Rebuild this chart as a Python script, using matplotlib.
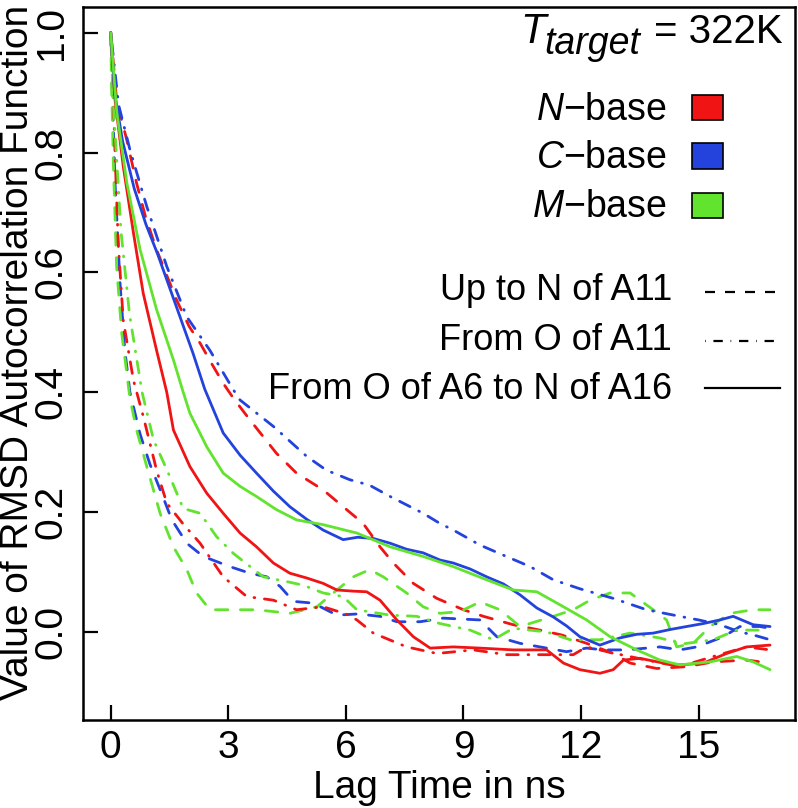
import matplotlib
matplotlib.use("Agg")
import matplotlib.pyplot as plt
from matplotlib.lines import Line2D
from matplotlib.patches import Rectangle

plt.rcParams["font.family"] = ["Liberation Sans", "DejaVu Sans"]
plt.rcParams["mathtext.fontset"] = "custom"
plt.rcParams["mathtext.rm"] = "Liberation Sans"
plt.rcParams["mathtext.it"] = "Liberation Sans:italic"

W, H = 798, 808

# N-base (red)
n_solid_x = [0, 0.11, 0.32, 0.58, 0.83, 1.17, 1.43, 1.60, 2.02, 2.45, 2.87, 3.30, 3.72, 4.15, 4.57,
             5.0, 5.42, 5.77, 6.2, 6.53, 6.87, 7.30, 7.72, 8.15, 8.74, 9.42, 10.27, 11.12, 11.55,
             11.97, 12.48, 12.82, 13.08, 13.5, 14.1, 14.52, 15.12, 15.71, 16.22, 16.82]
n_solid_y = [1.0, 0.888, 0.777, 0.666, 0.565, 0.47, 0.40, 0.337, 0.276, 0.2315, 0.198, 0.165, 0.142,
             0.115, 0.098, 0.09, 0.081, 0.07, 0.068, 0.067, 0.053, 0.02, -0.008, -0.027, -0.025,
             -0.027, -0.03, -0.03, -0.052, -0.063, -0.069, -0.063, -0.047, -0.044, -0.052, -0.055,
             -0.052, -0.036, -0.025, -0.022]
n_dash_x = [0, 0.15, 0.41, 0.66, 0.9, 1.17, 1.43, 1.68, 2.0, 2.28, 2.6, 2.87, 3.13, 3.55, 4.23, 4.74,
            5.42, 5.93, 6.44, 6.87, 7.21, 7.72, 8.32, 9.0, 9.51, 10.27, 10.95, 11.5, 12.14, 12.82,
            13.25, 13.93, 14.69, 15.37, 16.22, 16.82]
n_dash_y = [1.0, 0.888, 0.821, 0.749, 0.69, 0.638, 0.595, 0.554, 0.51, 0.482, 0.445, 0.415, 0.39,
            0.354, 0.298, 0.265, 0.237, 0.209, 0.181, 0.142, 0.115, 0.081, 0.056, 0.037, 0.026,
            0.012, 0.003, -0.005, -0.019, -0.036, -0.052, -0.061, -0.058, -0.05, -0.047, -0.052]
n_dotdash_x = [0, 0.05, 0.11, 0.19, 0.32, 0.58, 0.83, 1.17, 1.43, 1.85, 2.28, 2.87, 3.47, 4.15, 4.74,
               5.42, 6.0, 6.28, 6.70, 7.55, 8.32, 9.25, 10.10, 11.0, 11.80, 12.14, 12.8, 13.67,
               14.52, 15.37, 16.22, 16.82]
n_dotdash_y = [1.0, 0.92, 0.80, 0.65, 0.52, 0.42, 0.36, 0.27, 0.215, 0.18, 0.148, 0.092, 0.059,
               0.053, 0.037, 0.042, 0.03, 0.02, -0.002, -0.025, -0.036, -0.03, -0.038, -0.038,
               -0.038, -0.025, -0.035, -0.047, -0.058, -0.041, -0.025, -0.03]

# C-base (blue)
c_solid_x = [0, 0.1, 0.3, 0.6, 0.9, 1.2, 1.5, 1.8, 2.1, 2.4, 2.87, 3.3, 3.72, 4.15, 4.57, 5.0, 5.42,
             5.93, 6.3, 6.7, 7.13, 7.55, 7.97, 8.4, 8.74, 9.17, 9.59, 10.02, 10.44, 10.87, 11.29,
             11.63, 11.97, 12.48, 12.99, 13.42, 13.84, 14.27, 14.69, 15.12, 15.54, 15.88, 16.39, 16.82]
c_solid_y = [1.0, 0.90, 0.82, 0.74, 0.68, 0.63, 0.575, 0.52, 0.465, 0.405, 0.332, 0.295, 0.265,
             0.235, 0.209, 0.188, 0.170, 0.154, 0.158, 0.156, 0.148, 0.138, 0.132, 0.12, 0.115,
             0.105, 0.092, 0.08, 0.062, 0.04, 0.025, 0.01, -0.008, -0.022, -0.01, -0.004, -0.002,
             0.004, 0.009, 0.014, 0.02, 0.026, 0.012, 0.009]
c_dash_x = [0, 0.05, 0.11, 0.24, 0.36, 0.49, 0.75, 1.0, 1.30, 1.56, 1.94, 2.36, 3.04, 3.55, 3.98,
            4.32, 4.66, 5.17, 5.77, 6.3, 6.87, 7.30, 7.89, 8.48, 9.42, 9.85, 10.44, 11.12, 11.63,
            12.14, 12.57, 13.16, 14.01, 14.52, 14.95, 15.63, 16.05, 16.56, 16.82]
c_dash_y = [1.0, 0.88, 0.75, 0.58, 0.47, 0.40, 0.33, 0.28, 0.231, 0.187, 0.148, 0.126, 0.109, 0.098,
            0.092, 0.076, 0.051, 0.048, 0.028, 0.03, 0.026, 0.017, 0.017, 0.023, 0.02, -0.008,
            -0.019, -0.027, -0.033, -0.027, -0.03, -0.03, -0.025, -0.03, -0.025, -0.008, 0.009,
            0.009, 0.006]
c_dotdash_x = [0, 0.2, 0.49, 0.92, 1.43, 1.94, 2.53, 3.13, 3.30, 4.15, 5.0, 5.5, 6.10, 6.6, 7.13,
               7.97, 8.4, 8.74, 9.42, 10.02, 10.70, 11.29, 11.97, 12.82, 13.67, 14.52, 15.0, 15.54,
               16.05, 16.39, 16.82]
c_dotdash_y = [1.0, 0.88, 0.805, 0.71, 0.61, 0.526, 0.47, 0.404, 0.387, 0.343, 0.293, 0.27, 0.254,
               0.245, 0.226, 0.198, 0.181, 0.170, 0.145, 0.128, 0.109, 0.087, 0.072, 0.056, 0.037,
               0.026, 0.02, 0.012, 0.0, -0.005, -0.013]

# M-base (green)
m_solid_x = [0, 0.15, 0.41, 0.75, 1.17, 1.6, 1.85, 2.02, 2.45, 2.87, 3.30, 3.72, 4.23, 4.74, 5.42,
             6.28, 7.13, 7.97, 8.74, 9.59, 10.27, 10.87, 11.55, 12.14, 12.74, 13.42, 14.01, 14.52,
             15.29, 15.97, 16.39, 16.82]
m_solid_y = [1.0, 0.87, 0.75, 0.638, 0.538, 0.454, 0.40, 0.365, 0.309, 0.265, 0.243, 0.226, 0.204,
             0.187, 0.179, 0.165, 0.142, 0.126, 0.109, 0.087, 0.07, 0.067, 0.042, 0.02, -0.008,
             -0.03, -0.047, -0.055, -0.05, -0.041, -0.05, -0.063]
m_dash_x = [0, 0.02, 0.07, 0.15, 0.28, 0.49, 0.66, 0.92, 1.26, 1.60, 1.94, 2.19, 2.53, 3.13, 3.72,
            4.57, 5.26, 5.77, 6.19, 6.61, 6.95, 7.55, 7.97, 8.4, 8.91, 9.42, 9.93, 10.44, 11.29,
            11.80, 12.23, 12.74, 13.25, 13.84, 14.18, 14.44, 14.86, 15.29, 15.8, 16.39, 16.82]
m_dash_y = [1.0, 0.916, 0.777, 0.61, 0.499, 0.39, 0.337, 0.276, 0.198, 0.142, 0.104, 0.065, 0.037,
            0.037, 0.037, 0.031, 0.042, 0.07, 0.092, 0.104, 0.092, 0.065, 0.042, 0.031, 0.034,
            0.05, 0.037, 0.009, 0.026, 0.037, 0.053, 0.065, 0.065, 0.037, 0.02, -0.025, -0.019,
            0.009, 0.031, 0.037, 0.037]
m_dotdash_x = [0, 0.06, 0.26, 0.48, 0.8, 1.09, 1.51, 1.85, 2.28, 2.70, 3.13, 3.89, 4.49, 4.91, 5.42,
               5.93, 6.28, 7.13, 7.81, 8.40, 9.17, 9.76, 10.27, 11.12, 11.72, 12.48, 13.25, 14.0,
               14.6, 15.37, 15.97, 16.65]
m_dotdash_y = [1.0, 0.89, 0.67, 0.53, 0.40, 0.321, 0.259, 0.206, 0.198, 0.159, 0.131, 0.092, 0.084,
               0.078, 0.065, 0.059, 0.037, 0.028, 0.026, 0.014, 0.003, -0.013, 0.006, 0.0, -0.013,
               -0.013, -0.002, -0.01, -0.02, -0.013, 0.003, 0.003]

x_ticks = [0, 3, 6, 9, 12, 15]
y_ticks = [0.0, 0.2, 0.4, 0.6, 0.8, 1.0]
base_labels = ["$N$\u2212base", "$C$\u2212base", "$M$\u2212base"]
seg_labels = ["Up to N of A11", "From O of A11", "From O of A6 to N of A16"]

RED, BLUE, GREEN = "#F01414", "#2343DC", "#62E32E"
colors = [RED, BLUE, GREEN]
DASHED = (0, (4.5, 4.5))
DOTDASH = (0, (0.3, 3.5, 4.2, 3.5))
styles = [DASHED, DOTDASH, "-"]


def fx(px):
    return px / W


def fy(py):
    return 1 - py / H


fig = plt.figure(figsize=(W / 100, H / 100), dpi=100)
ax = fig.add_axes([fx(83), fy(720), fx(795) - fx(83), fy(7) - fy(720)])

series = [
    (n_dash_x, n_dash_y, RED, DASHED), (c_dash_x, c_dash_y, BLUE, DASHED), (m_dash_x, m_dash_y, GREEN, DASHED),
    (n_dotdash_x, n_dotdash_y, RED, DOTDASH), (c_dotdash_x, c_dotdash_y, BLUE, DOTDASH),
    (m_dotdash_x, m_dotdash_y, GREEN, DOTDASH),
    (n_solid_x, n_solid_y, RED, "-"), (c_solid_x, c_solid_y, BLUE, "-"), (m_solid_x, m_solid_y, GREEN, "-"),
]
for xs, ys, c, ls in series:
    ax.plot(xs, ys, color=c, linestyle=ls, lw=2.0, dash_capstyle="round", solid_capstyle="round")

ax.set_xlim(-0.707, 17.457)
ax.set_ylim(-0.147, 1.043)
ax.set_xticks(x_ticks)
ax.set_yticks(y_ticks)
ax.set_yticklabels([f"{v:.1f}" for v in y_ticks])
for s in ax.spines.values():
    s.set_linewidth(1.8)
ax.tick_params(direction="in", length=10.8, width=1.6, labelsize=28)
ax.tick_params(axis="x", pad=7)
ax.tick_params(axis="y", pad=9.5, labelrotation=90)
for lbl in ax.get_yticklabels():
    lbl.set_va("center")

fig.text(fx(439), fy(798), "Lag Time in ns", fontsize=28, ha="center", va="baseline")
fig.text(fx(18), fy(352), "Value of RMSD Autocorrelation Function", fontsize=28,
         rotation=90, ha="center", va="center")

# T_target = 322K, built from pieces so the subscript stays large
renderer = fig.canvas.get_renderer()
t_val = fig.text(fx(783), fy(43), "= 322K", fontsize=29, ha="right", va="baseline")
left = t_val.get_window_extent(renderer).x0
t_sub = fig.text(fx(left - 14), fy(54), "target", fontsize=27, style="italic", ha="right", va="baseline")
left = t_sub.get_window_extent(renderer).x0
fig.text(fx(left + 1), fy(43), "T", fontsize=30, style="italic", ha="right", va="baseline")

box_tops = [95, 143.5, 192.5]
for lab, c, top in zip(base_labels, colors, box_tops):
    fig.text(fx(667), fy(top + 24.5), lab, fontsize=27, ha="right", va="baseline")
    fig.add_artist(Rectangle((fx(692), fy(top + 25)), fx(723) - fx(692), fy(top) - fy(top + 25),
                             facecolor=c, edgecolor="black", lw=1.2, transform=fig.transFigure))

text_base = [300, 350, 399]
line_y = [292, 341, 388]
for lab, ls, tb, ly in zip(seg_labels, styles, text_base, line_y):
    fig.text(fx(672), fy(tb), lab, fontsize=26, ha="right", va="baseline")
    fig.add_artist(Line2D([fx(705), fx(780)], [fy(ly), fy(ly)], color="black", lw=1.6,
                          linestyle=ls, dash_capstyle="butt", transform=fig.transFigure))

fig.savefig("out.png", dpi=100)
